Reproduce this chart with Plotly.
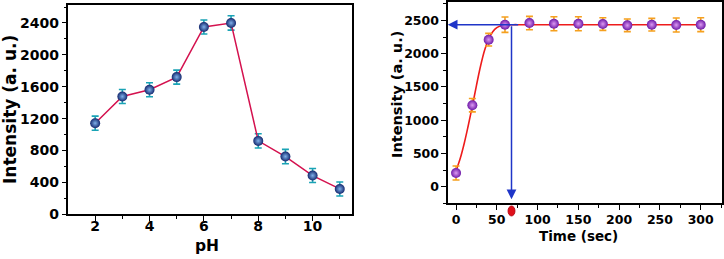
import plotly.graph_objects as go

# ---- Left panel data (pH effect) ----
ph = [2, 3, 4, 5, 6, 7, 8, 9, 10, 11]
ph_intensity = [1143, 1478, 1562, 1721, 2350, 2400, 921, 725, 486, 318]
ph_err = [88, 88, 88, 88, 88, 90, 90, 90, 88, 88]

# ---- Right panel data (time effect) ----
time_s = [0, 20, 40, 60, 90, 120, 150, 180, 210, 240, 270, 300]
time_intensity = [205, 1225, 2210, 2435, 2460, 2450, 2450, 2445, 2425, 2435, 2430, 2435]
time_err = [105, 100, 95, 115, 100, 105, 105, 95, 95, 95, 105, 105]

# fitted curve
fit_t = [0, 5, 10, 15, 20, 25, 30, 35, 40, 45, 50, 55, 60, 70, 80, 300]
fit_y = [240, 420, 650, 920, 1210, 1520, 1810, 2050, 2220, 2330, 2390, 2420, 2430, 2435, 2435, 2435]

reach_time = 68
plateau = 2435
arrow_start_t = 78
arrow_end_y = -190
dot_y = -365

FONT = "DejaVu Sans"
BLUE_ARROW = "#1f35c8"

X1_DOM, Y1_DOM = [0.0939, 0.4862], [0.1726, 0.982]
X2_DOM, Y2_DOM = [0.6184, 0.9968], [0.215, 0.992]
X1_RNG, Y1_RNG = [1.0, 11.45], [0, 2630]
X2_RNG, Y2_RNG = [-10.2, 325.7], [-250, 2775]

fig = go.Figure()

fig.add_trace(go.Scatter(
    x=ph, y=ph_intensity, mode="lines+markers",
    line=dict(color="#d4124f", width=1.5),
    marker=dict(size=10, color="#14286e", line=dict(width=0),
                gradient=dict(type="radial", color="#7fb0ea")),
    error_y=dict(type="data", array=ph_err, color="#1aa3b5", thickness=1.6, width=3.5),
    xaxis="x", yaxis="y", showlegend=False))

fig.add_trace(go.Scatter(
    x=fit_t, y=fit_y, mode="lines", line=dict(color="#ee1c1c", width=1.6, shape="spline"),
    xaxis="x2", yaxis="y2", showlegend=False))

fig.add_trace(go.Scatter(
    x=time_s, y=time_intensity, mode="markers",
    marker=dict(size=10, color="#6e1aa8", line=dict(width=0),
                gradient=dict(type="radial", color="#dc9af2")),
    error_y=dict(type="data", array=time_err, color="#f5a01e", thickness=1.6, width=3.5),
    xaxis="x2", yaxis="y2", showlegend=False))


def axis_style(size):
    return dict(
        showline=True, linecolor="black", linewidth=1.5, mirror=True,
        ticks="outside", ticklen=4.5, tickwidth=1.3, tickcolor="black",
        showgrid=False, zeroline=False, automargin=False,
        tickfont=dict(family=FONT, size=size, color="black", weight="bold"),
    )


minor_style = dict(ticks="outside", ticklen=2.5, tickwidth=1.1, tickcolor="black")

fig.update_layout(
    template="none",
    width=724, height=259,
    margin=dict(l=0, r=0, t=0, b=0),
    paper_bgcolor="white", plot_bgcolor="white",
    font=dict(family=FONT, color="black"),
    xaxis=dict(domain=X1_DOM, range=X1_RNG, tickvals=[2, 4, 6, 8, 10],
               minor=dict(tickvals=[3, 5, 7, 9, 11], **minor_style),
               ticklabelstandoff=-6,
               anchor="y", **axis_style(14)),
    yaxis=dict(domain=Y1_DOM, range=Y1_RNG,
               tickvals=[0, 400, 800, 1200, 1600, 2000, 2400],
               minor=dict(dtick=200, **minor_style),
               anchor="x", **axis_style(14)),
    xaxis2=dict(domain=X2_DOM, range=X2_RNG,
                tickvals=[0, 50, 100, 150, 200, 250, 300],
                minor=dict(dtick=25, **minor_style),
                ticklabelstandoff=-1,
                anchor="y2", **axis_style(12.5)),
    yaxis2=dict(domain=Y2_DOM, range=Y2_RNG,
                tickvals=[0, 500, 1000, 1500, 2000, 2500],
                minor=dict(dtick=250, **minor_style),
                anchor="x2", **axis_style(12.5)),
)

# axis titles
title_font = lambda s: dict(family=FONT, size=s, color="black", weight="bold")
fig.add_annotation(text="Intensity (a. u.)", textangle=-90, x=10 / 724, y=(259 - 110) / 259,
                   xref="paper", yref="paper", showarrow=False, font=title_font(17),
                   xanchor="center", yanchor="middle")
fig.add_annotation(text="pH", x=(X1_DOM[0] + X1_DOM[1]) / 2 - 0.004, y=(259 - 246) / 259,
                   xref="paper", yref="paper", showarrow=False, font=title_font(15.5),
                   xanchor="center", yanchor="middle")
fig.add_annotation(text="Intensity (a. u.)", textangle=-90, x=397 / 724, y=(259 - 95) / 259,
                   xref="paper", yref="paper", showarrow=False, font=title_font(14.5),
                   xanchor="center", yanchor="middle")
fig.add_annotation(text="Time (sec)", x=(X2_DOM[0] + X2_DOM[1]) / 2 - 0.008, y=(259 - 236) / 259,
                   xref="paper", yref="paper", showarrow=False, font=title_font(13.5),
                   xanchor="center", yanchor="middle")

# horizontal arrow to the y axis
fig.add_annotation(x=X2_RNG[0], y=plateau, ax=arrow_start_t, ay=plateau,
                   xref="x2", yref="y2", axref="x2", ayref="y2",
                   showarrow=True, arrowhead=2, arrowsize=1.3, arrowwidth=1.5,
                   arrowcolor=BLUE_ARROW, text="")
# vertical arrow down to the axis
fig.add_annotation(x=reach_time, y=arrow_end_y, ax=reach_time, ay=plateau,
                   xref="x2", yref="y2", axref="x2", ayref="y2",
                   showarrow=True, arrowhead=2, arrowsize=1.3, arrowwidth=1.5,
                   arrowcolor=BLUE_ARROW, text="")

# red dot just below the time axis at the reach time (converted to paper coords)
px = X2_DOM[0] + (reach_time - X2_RNG[0]) / (X2_RNG[1] - X2_RNG[0]) * (X2_DOM[1] - X2_DOM[0])
py = Y2_DOM[0] + (dot_y - Y2_RNG[0]) / (Y2_RNG[1] - Y2_RNG[0]) * (Y2_DOM[1] - Y2_DOM[0])
fig.add_shape(type="circle", xref="paper", yref="paper",
              x0=px - 3.5 / 724, x1=px + 3.5 / 724, y0=py - 5 / 259, y1=py + 5 / 259,
              fillcolor="#e0101a", line=dict(color="#b00010", width=0.8), layer="above")

fig.write_html("out.html", config={"displayModeBar": False},
               post_script="document.body.style.margin='0';document.body.style.overflow='hidden';")
